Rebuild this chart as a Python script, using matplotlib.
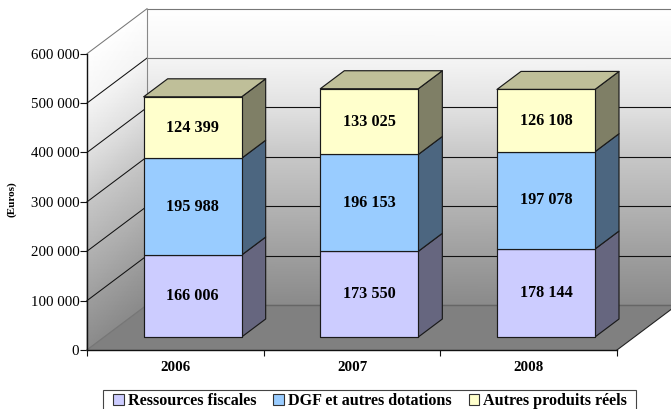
import matplotlib
matplotlib.use("Agg")
import matplotlib.pyplot as plt
import numpy as np
from matplotlib.patches import Polygon, Patch, Rectangle

years = ["2006", "2007", "2008"]
ressources = [166006, 173550, 178144]
dgf = [195988, 196153, 197078]
autres = [124399, 133025, 126108]
series_names = ["Ressources fiscales", "DGF et autres dotations", "Autres produits réels"]
y_ticks = [0, 100000, 200000, 300000, 400000, 500000, 600000]

front_colors = ["#CCCCFF", "#99CCFF", "#FFFFCC"]
side_colors = ["#66667F", "#4C6680", "#7F7F66"]
top_color = "#BFBF99"
wall_gray = [0.54, 0.62, 0.70, 0.78, 0.88, 0.96, 1.0]
W, H = 671, 409
FONT = "Liberation Serif"

fig = plt.figure(figsize=(W / 100, H / 100), dpi=100, facecolor="white")
ax = fig.add_axes([87 / W, (H - 350) / H, 530 / W, 296.3 / H])
ax.patch.set_visible(False)
ax.set_xlim(0, 3)
ax.set_ylim(0, 600000)

px_x = 3 / 530          # data units per pixel, horizontally
px_y = 600000 / 296.3   # data units per pixel, vertically
DX, DY = 60 * px_x, 45 * px_y   # full depth of the chart box


def depth(x, y, f):
    """Shift a front-plane point backwards by the fraction f of the chart depth."""
    return x + f * DX, y + f * DY


ticks = np.array(y_ticks, dtype=float)
gray = np.array(wall_gray)

# back wall
X, Y = np.meshgrid([DX, 3 + DX], ticks + DY)
ax.pcolormesh(X, Y, np.column_stack([gray, gray]), shading="gouraud", cmap="gray",
              vmin=0, vmax=1, zorder=1, clip_on=False)
# side wall
X = np.column_stack([np.zeros_like(ticks), np.full_like(ticks, DX)])
Y = np.column_stack([ticks, ticks + DY])
ax.pcolormesh(X, Y, np.column_stack([gray, gray]), shading="gouraud", cmap="gray",
              vmin=0, vmax=1, zorder=1, clip_on=False)

# grid lines
for t in y_ticks:
    col = "#777777" if t >= 500000 else "#111111"
    if t == 0:
        col = "#555555"
    diag = "#777777" if t == 600000 else ("#777777" if t == 0 else "#111111")
    ax.plot([0, DX], [t, t + DY], color=diag, lw=0.75, zorder=2, clip_on=False)
    ax.plot([DX, 3 + DX], [t + DY, t + DY], color=col, lw=0.8, zorder=2, clip_on=False)
ax.plot([DX, DX], [DY, 600000 + DY], color="#888888", lw=0.8, zorder=2, clip_on=False)

# floor
ax.add_patch(Polygon([(0, 0), (3, 0), (3 + DX, DY), (DX, DY)], closed=True,
                     facecolor="#808080", edgecolor="none", zorder=2.2, clip_on=False))
ax.plot([DX, 3 + DX], [DY, DY], color="#666666", lw=1.0, zorder=2.3, clip_on=False)
ax.plot([3, 3 + DX], [0, DY], color="#222222", lw=0.8, zorder=2.3, clip_on=False)
ax.plot([0, DX], [0, DY], color="#777777", lw=0.8, zorder=2.3, clip_on=False)

# stacked 3-D bars
BAR_W = 98 * px_x
BAR_F = 13 / 45       # front of bar, as a fraction of the depth
BAR_D = 18 / 45       # depth of bar, as a fraction of the depth
EDGE = dict(edgecolor="#1a1a1a", linewidth=0.85, joinstyle="round", clip_on=False, zorder=3)
for i, year in enumerate(years):
    bottom = 0
    x0, _ = depth(i + 0.5 - BAR_W / 2, 0, BAR_F)
    x1 = x0 + BAR_W
    for j, values in enumerate([ressources, dgf, autres]):
        v = values[i]
        y0 = depth(0, bottom, BAR_F)[1]
        y1 = y0 + v
        ax.add_patch(Polygon([(x1, y0), depth(x1, y0, BAR_D), depth(x1, y1, BAR_D), (x1, y1)],
                             closed=True, facecolor=side_colors[j], **EDGE))
        if j == 2:
            ax.add_patch(Polygon([(x0, y1), (x1, y1), depth(x1, y1, BAR_D), depth(x0, y1, BAR_D)],
                                 closed=True, facecolor=top_color, **EDGE))
        ax.add_patch(Polygon([(x0, y0), (x1, y0), (x1, y1), (x0, y1)],
                             closed=True, facecolor=front_colors[j], **EDGE))
        ax.text((x0 + x1) / 2, (y0 + y1) / 2, f"{v:,}".replace(",", " "), ha="center",
                va="center", family=FONT, weight="bold", fontsize=11.7, color="black", zorder=4)
        bottom += v

# axes
for s in ["top", "right"]:
    ax.spines[s].set_visible(False)
for s in ["left", "bottom"]:
    ax.spines[s].set_color("#111111")
    ax.spines[s].set_linewidth(1.0)
    ax.spines[s].set_zorder(3)
ax.set_yticks(y_ticks)
ax.set_yticklabels([f"{t:,}".replace(",", " ") for t in y_ticks], family=FONT, fontsize=10.7)
ax.tick_params(axis="y", length=5, width=0.8, color="#111111", pad=0.5)
ax.set_xticks([0, 1, 2, 3])
ax.set_xticklabels([])
ax.tick_params(axis="x", which="major", length=4.5, width=0.8, color="#111111")
ax.set_xticks([0.5, 1.5, 2.5], minor=True)
ax.set_xticklabels(years, minor=True, family=FONT, weight="bold", fontsize=10.8)
ax.tick_params(axis="x", which="minor", length=0, pad=8)

fig.text(12 / W, 1 - 199 / H, "(Euros)", rotation=90, ha="center", va="center",
         family=FONT, weight="bold", fontsize=8)

# legend
fig.add_artist(Rectangle((103 / W, (H - 412) / H), 533.5 / W, 22 / H,
                         transform=fig.transFigure, facecolor="white",
                         edgecolor="#444444", linewidth=0.8))
handles = [Patch(facecolor=c, edgecolor="#333333", linewidth=0.8) for c in front_colors]
fig.legend(handles, series_names, ncol=3, loc="lower left",
           bbox_to_anchor=(113 / W, (H - 409.2) / H), bbox_transform=fig.transFigure,
           prop=dict(family=FONT, weight="bold", size=11.6),
           frameon=False, borderaxespad=0, borderpad=0, handlelength=0.67, handleheight=0.67,
           handletextpad=0.25, columnspacing=1.05)

fig.savefig("out.png", dpi=100)
